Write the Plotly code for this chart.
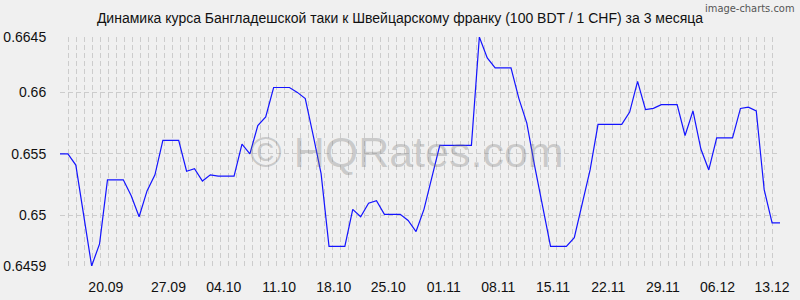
import plotly.graph_objects as go

# --- data ---
values = [
    0.6550, 0.6550, 0.6541, 0.6501, 0.6459, 0.6477, 0.6529, 0.6529, 0.6529, 0.6516,
    0.6499, 0.6520, 0.6533, 0.6561, 0.6561, 0.6561, 0.6536, 0.6538, 0.6528, 0.6533,
    0.6532, 0.6532, 0.6532, 0.6558, 0.6550, 0.6573, 0.6580, 0.6604, 0.6604, 0.6604,
    0.6600, 0.6595, 0.6565, 0.6534, 0.6475, 0.6475, 0.6475, 0.6505, 0.6499, 0.6510,
    0.6512, 0.6501, 0.6501, 0.6501, 0.6496, 0.6487, 0.6505, 0.6531, 0.6557, 0.6557,
    0.6557, 0.6557, 0.6557, 0.6645, 0.6628, 0.6620, 0.6620, 0.6620, 0.6595, 0.6575,
    0.6540, 0.6508, 0.6475, 0.6475, 0.6475, 0.6482, 0.6510, 0.6537, 0.6574, 0.6574,
    0.6574, 0.6574, 0.6584, 0.6609, 0.6586, 0.6587, 0.6590, 0.6590, 0.6590, 0.6565,
    0.6585, 0.6554, 0.6537, 0.6563, 0.6563, 0.6563, 0.6587, 0.6588, 0.6585, 0.6521,
    0.6494, 0.6494,
]
x_idx = list(range(len(values)))

x_tick_labels = ["20.09", "27.09", "04.10", "11.10", "18.10", "25.10", "01.11",
                 "08.11", "15.11", "22.11", "29.11", "06.12", "13.12"]
x_tick_pos = [5.8, 13.7, 20.7, 27.7, 34.6, 41.5, 48.5, 55.4, 62.3, 69.3, 76.2, 83.1, 90.0]

y_tick_vals = [0.6459, 0.65, 0.655, 0.66, 0.6645]
y_tick_text = ["0.6459", "0.65", "0.655", "0.66", "0.6645"]

title_text = "Динамика курса Бангладешской таки к Швейцарскому франку (100 BDT / 1 CHF) за 3 месяца"

BG = "#f0f0f0"
GRID = "#cccccc"
FONT = "Liberation Sans, Arial, sans-serif"

fig = go.Figure()
fig.add_trace(go.Scatter(
    x=x_idx, y=values, mode="lines",
    line=dict(color="#1414ff", width=1.2),
    hoverinfo="skip", showlegend=False,
))

n = len(values) - 1
fig.update_layout(
    width=800, height=300,
    margin=dict(l=60, r=20, t=37, b=34, pad=0, autoexpand=False),
    paper_bgcolor=BG, plot_bgcolor=BG,
    font=dict(family=FONT, size=14, color="#111111"),
    title=dict(text=title_text, x=0.5, xanchor="center", y=1 - 18 / 300, yanchor="middle",
               yref="container", xref="container",
               font=dict(family=FONT, size=14, color="#111111")),
    xaxis=dict(
        range=[0, n], tickmode="array", tickvals=x_tick_pos, ticktext=x_tick_labels,
        showgrid=False, zeroline=False, showline=False, automargin=False,
        ticks="outside", ticklen=8, tickcolor="rgba(0,0,0,0)",
        tickfont=dict(size=14, color="#111111"),
        minor=dict(tickmode="linear", tick0=0, dtick=n / 90, showgrid=True,
                   gridcolor=GRID, griddash="5px,3px", gridwidth=1, ticks=""),
    ),
    yaxis=dict(
        range=[0.6459, 0.6645], tickmode="array", tickvals=y_tick_vals, ticktext=y_tick_text,
        showgrid=True, gridcolor=GRID, griddash="5px,3px", gridwidth=1,
        zeroline=False, showline=False, automargin=False,
        ticks="outside", ticklen=10, tickcolor="rgba(0,0,0,0)",
        tickfont=dict(size=14, color="#111111"),
    ),
    annotations=[
        dict(text="© HQRates.com", x=(401 - 60) / 720 + 0.008, y=0.50, xref="paper", yref="paper",
             showarrow=False, xanchor="center", yanchor="middle",
             font=dict(family=FONT, size=43, color="rgba(120,120,120,0.33)")),
        dict(text="image-charts.com", x=(797 - 60) / 720, y=1 + (37 - 8) / 229,
             xref="paper", yref="paper",
             showarrow=False, xanchor="right", yanchor="middle",
             font=dict(family="Liberation Sans Narrow, DejaVu Sans Condensed, sans-serif",
                       size=11, color="#555555")),
    ],
)

fig.write_html("out.html")
